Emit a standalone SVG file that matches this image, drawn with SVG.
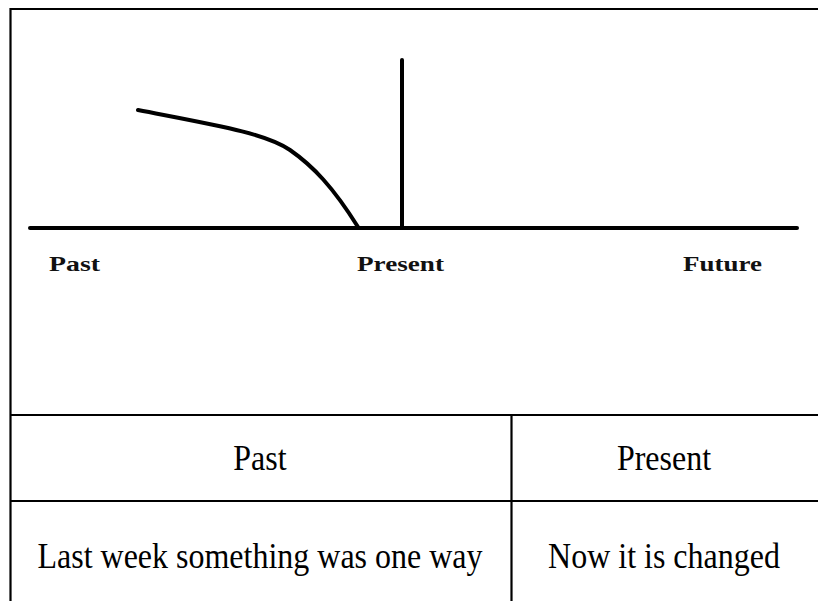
<svg xmlns="http://www.w3.org/2000/svg" width="818" height="601" viewBox="0 0 818 601">
<style>
.frame{stroke:#000;stroke-width:2.2;fill:none}
.bold{stroke:#000;stroke-width:4;fill:none;stroke-linecap:round}
.lbl{font-family:"Liberation Serif","Times New Roman",serif;font-weight:bold;font-size:21px;fill:#111}
.cell{font-family:"Liberation Serif","Times New Roman",serif;font-size:32px;fill:#000}
</style>
<rect width="818" height="601" fill="#fff"/>
<g id="frame">
<polyline class="frame" points="10.5,601 10.5,9 818,9"/>
<line class="frame" x1="10" y1="415" x2="818" y2="415"/>
<line class="frame" x1="10" y1="501" x2="818" y2="501"/>
<line class="frame" x1="511.5" y1="415" x2="511.5" y2="601"/>
</g>
<g id="connectors">
<line class="bold" x1="30" y1="228" x2="797" y2="228"/>
<line class="bold" x1="402" y1="60" x2="402" y2="228"/>
<path class="bold" d="M138,110 C215,125 265,133 290,150 C313,166 333,187 358,227"/>
</g>
<g id="axis-labels">
<text class="lbl" x="49" y="271" textLength="51" lengthAdjust="spacingAndGlyphs">Past</text>
<text class="lbl" x="357" y="271" textLength="87" lengthAdjust="spacingAndGlyphs">Present</text>
<text class="lbl" x="683" y="271" textLength="79" lengthAdjust="spacingAndGlyphs">Future</text>
</g>
<g id="cell-past-head"><text class="cell" text-anchor="middle" transform="translate(260,470) scale(1,1.15)">Past</text></g>
<g id="cell-present-head"><text class="cell" text-anchor="middle" transform="translate(664,470) scale(1,1.15)">Present</text></g>
<g id="cell-past-body"><text class="cell" text-anchor="middle" transform="translate(260,568) scale(1,1.15)">Last week something was one way</text></g>
<g id="cell-present-body"><text class="cell" text-anchor="middle" transform="translate(664,568) scale(1,1.15)">Now it is changed</text></g>
</svg>
